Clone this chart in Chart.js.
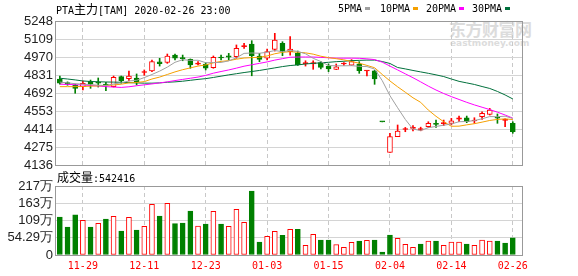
<!DOCTYPE html>
<html><head><meta charset="utf-8">
<script src="https://cdn.jsdelivr.net/npm/chart.js@4.4.1/dist/chart.umd.min.js"></script>
<style>
html,body{margin:0;padding:0;background:#fff;width:578px;height:276px;overflow:hidden}
#wrap{position:relative;width:578px;height:276px}
canvas{position:absolute;left:0;top:0}
.t{position:absolute;white-space:nowrap;font-family:"DejaVu Sans Mono",monospace;font-size:10px;line-height:12px;color:#000}
.c{font-family:"Noto Sans CJK SC";font-size:12px}
.sw{position:absolute;width:5px;height:3px}
.wm{position:absolute;color:#dcdcdc;font-family:"Noto Sans CJK SC";font-weight:bold;white-space:nowrap}
</style></head><body>
<div id="wrap">
<div class="wm" style="left:449px;top:19px;font-size:17px;line-height:20px;letter-spacing:-0.5px">东方财富网</div>
<div class="wm" style="left:450px;top:38px;font-size:9px;line-height:10px;font-family:'DejaVu Sans'">eastmoney.com</div>
<canvas id="pc" width="578" height="276"></canvas>
<canvas id="vc" width="578" height="276"></canvas>
<div class="t" id="title" style="left:56px;top:3px">PTA<span class="c">主力</span>[TAM] 2020-02-26 23:00</div>
<div class="t" style="left:338px;top:3px">5PMA</div><div class="sw" style="left:365px;top:7px;background:#a0a0a0"></div>
<div class="t" style="left:380px;top:3px">10PMA</div><div class="sw" style="left:413px;top:7px;background:#f5a000"></div>
<div class="t" style="left:426px;top:3px">20PMA</div><div class="sw" style="left:459px;top:7px;background:#ff00ff"></div>
<div class="t" style="left:472px;top:3px">30PMA</div><div class="sw" style="left:505px;top:7px;background:#00703c"></div>
<div class="t" id="vtitle" style="left:57px;top:171px"><span class="c">成交量</span>:542416</div>
</div>
<script>
const dates = ['11-26','11-27','11-28','11-29','12-02','12-03','12-04','12-05','12-06','12-09','12-10','12-11','12-12','12-13','12-16','12-17','12-18','12-19','12-20','12-23','12-24','12-25','12-26','12-27','12-30','12-31','01-02','01-03','01-06','01-07','01-08','01-09','01-10','01-13','01-14','01-15','01-16','01-17','01-20','01-21','01-22','01-23','02-03','02-04','02-05','02-06','02-07','02-10','02-11','02-12','02-13','02-14','02-17','02-18','02-19','02-20','02-21','02-24','02-25','02-26'];
const openP  = [4800,4772,4754,4741,4782,4770,4757,4741,4818,4803,4808,4850,4862,4933,4929,4985,4965,4952,4915,4916,4887,4968,4980,4972,5050,5070,4978,4960,5029,5076,5011,5000,4919,4916,4926,4900,4875,4916,4906,4916,4862,4864,4471,4234,4355,4410,4418,4405,4432,4452,4455,4458,4490,4500,4476,4509,4527,4506,4480,4458];
const highP  = [4823,4778,4761,4785,4792,4808,4775,4823,4823,4862,4839,4870,4947,4960,4993,4993,4985,4955,4934,4926,4978,4985,4998,5063,5076,5096,4998,5032,5153,5088,5127,5016,4941,4941,4934,4916,4916,4926,4950,4934,4866,4866,4471,4381,4445,4426,4440,4428,4470,4483,4483,4496,4514,4514,4501,4547,4573,4530,4492,4470];
const lowP   = [4761,4752,4690,4715,4728,4738,4710,4738,4767,4785,4754,4829,4856,4900,4921,4947,4941,4883,4908,4870,4883,4947,4947,4960,5037,4825,4934,4947,5016,4980,4985,4905,4900,4875,4877,4857,4873,4905,4906,4844,4823,4759,4469,4234,4355,4393,4400,4400,4426,4426,4440,4445,4470,4463,4458,4488,4522,4458,4432,4381];
const closeP = [4767,4760,4728,4767,4761,4767,4754,4813,4787,4823,4777,4854,4934,4918,4978,4960,4957,4908,4921,4883,4968,4962,4968,5037,5057,4980,4952,5011,5101,5011,5032,4908,4921,4926,4890,4877,4895,4921,4934,4864,4866,4800,4469,4355,4398,4418,4426,4418,4458,4450,4462,4478,4500,4470,4483,4535,4561,4498,4490,4393];
const volWan = [119.5,88,126,109,88,99.6,113,121.6,75.5,118.5,78.6,90,159,122.6,162.5,98.5,100.6,138,91,97.5,137,97.5,90,143.6,102.7,201,41,58.7,74.4,61.8,80.7,80.7,30.4,65,47,47,32.5,24,39.8,44,46,47,9.4,63,52.4,33.5,24,34.6,44,44,30.4,41,41,34.6,30.4,47,44,44,37.7,54.2416];
const ma5  = [4776,4770,4764,4760,4757,4752,4750,4762,4770,4785,4790,4811,4835,4861,4892,4929,4949,4944,4945,4926,4927,4928,4940,4964,4998,5001,4999,5007,5020,5011,5021,5013,4995,4960,4935,4904,4902,4902,4903,4898,4896,4877,4787,4671,4578,4488,4413,4403,4424,4434,4443,4453,4470,4472,4479,4493,4510,4509,4513,4495];
const ma10 = [4741,4741,4741,4742,4745,4747,4750,4754,4760,4770,4773,4780,4800,4815,4835,4855,4872,4886,4900,4909,4925,4936,4942,4953,4962,4965,4968,4978,4995,5006,5011,5007,5002,4992,4976,4965,4957,4948,4935,4922,4905,4887,4835,4785,4740,4698,4655,4620,4560,4512,4470,4435,4436,4446,4455,4467,4480,4488,4492,4487];
const ma20 = [4760,4758,4756,4754,4750,4746,4741,4738,4735,4740,4748,4755,4762,4770,4778,4788,4797,4806,4815,4828,4845,4858,4870,4884,4899,4910,4921,4932,4946,4957,4968,4970,4970,4970,4967,4964,4961,4961,4961,4960,4956,4950,4930,4900,4870,4840,4810,4778,4745,4715,4688,4664,4642,4620,4600,4582,4564,4544,4522,4498];
const ma30 = [4806,4800,4793,4785,4781,4779,4777,4776,4775,4772,4770,4768,4768,4770,4775,4778,4783,4790,4797,4803,4812,4822,4832,4841,4850,4858,4866,4876,4886,4896,4904,4909,4916,4921,4925,4929,4934,4937,4942,4944,4946,4946,4935,4920,4889,4878,4866,4855,4844,4832,4819,4800,4782,4770,4758,4742,4727,4704,4677,4646];
const priceTicks = [4136,4275,4414,4553,4692,4831,4970,5109,5248];
const volTickVals = [0,54.25,108.5,162.75,217];
const volTickLabels = ['0','54.29万','109万','163万','217万'];
const xTickIdx = [3,11,19,27,35,43,51,59];

const RED='#ff0000', GRN='#008000';
const idx = dates.map((d,i)=>i);
const up = i => closeP[i] >= openP[i];
const candleColor = i => up(i) ? RED : GRN;
const bodyFill = i => up(i) ? (Math.abs(closeP[i]-openP[i]) < 20 ? RED : '#ffffff') : GRN;
const volUp = i => i===0 ? closeP[0] >= openP[0] : closeP[i] > closeP[i-1];

const frame = {id:'frame', afterDraw(chart){
  const {ctx, chartArea:a} = chart;
  ctx.save(); ctx.strokeStyle='#999999'; ctx.lineWidth=1;
  ctx.strokeRect(Math.round(a.left)-0.5, Math.round(a.top)+0.5, Math.round(a.right)-Math.round(a.left)+1, Math.round(a.bottom)-Math.round(a.top));
  ctx.restore();
}};
const xScale = (showLabels) => ({
  type:'linear', min:-0.5, max:60.2, offset:false,
  grid:{offset:false, color:'#c8c8c8', drawTicks:false, borderDash:[4,3]},
  border:{display:false, dash:[4,3]},
  afterBuildTicks: s => { s.ticks = xTickIdx.map(v=>({value:v})); },
  ticks: showLabels ? {display:true, autoSkip:false, maxRotation:0, padding:5, color:RED,
      font:{family:'DejaVu Sans Mono', size:10}, callback:(v)=>dates[v]} : {display:false},
  afterFit: s => { s.height = showLabels ? 21 : 0; }
});
const yFont = {family:'Liberation Sans', size:13};
const common = {responsive:false, animation:false, events:[], plugins:{legend:{display:false}, tooltip:{enabled:false}}};
const line = (arr, color) => ({type:'line', data: arr.map((v,i)=>({x:i,y:v})), borderColor:color, borderWidth:1, pointRadius:0, tension:0, order:1});

new Chart(document.getElementById('pc'), {
  type:'bar',
  data:{datasets:[
    line(ma5,'#a0a0a0'), line(ma10,'#f5a000'), line(ma20,'#ff00ff'), line(ma30,'#00703c'),
    {data: idx.map(i=>({x:i,y:[openP[i],closeP[i]]})), backgroundColor: idx.map(bodyFill), borderColor: idx.map(candleColor),
     borderWidth:1, borderSkipped:false, barThickness:5, grouped:false, minBarLength:1, order:5},
    {data: idx.map(i=>({x:i,y:[lowP[i],highP[i]]})), backgroundColor: idx.map(candleColor), borderWidth:0,
     barThickness:1, grouped:false, order:6}
  ]},
  options:{...common,
    layout:{padding:{left:0,right:56,top:21,bottom:111}},
    scales:{
      x: xScale(false),
      y:{min:4136, max:5248, grid:{color:'#d4d4d4', drawTicks:false}, border:{display:false},
         afterBuildTicks: s => { s.ticks = priceTicks.map(v=>({value:v})); },
         ticks:{autoSkip:false, padding:3, font:yFont, color:'#222', callback:(v)=>String(v)}, afterFit: s => { s.width = 56; }}
    }
  },
  plugins:[frame]
});

new Chart(document.getElementById('vc'), {
  type:'bar',
  data:{datasets:[
    {data: idx.map(i=>({x:i,y:volWan[i]})), backgroundColor: idx.map(i=>volUp(i)?'#ffffff':GRN),
     borderColor: idx.map(i=>volUp(i)?RED:GRN), borderWidth:1, borderSkipped:false, barThickness:5, grouped:false}
  ]},
  options:{...common,
    layout:{padding:{left:0,right:56,top:186,bottom:0}},
    scales:{
      x: xScale(true),
      y:{min:0, max:217, grid:{color:'#d4d4d4', drawTicks:false}, border:{display:false},
         afterBuildTicks: s => { s.ticks = volTickVals.map(v=>({value:v})); },
         ticks:{autoSkip:false, padding:3, font:yFont, color:'#222', callback:(v,i)=>volTickLabels[i]}, afterFit: s => { s.width = 56; }}
    }
  },
  plugins:[frame]
});
</script>
</body></html>
